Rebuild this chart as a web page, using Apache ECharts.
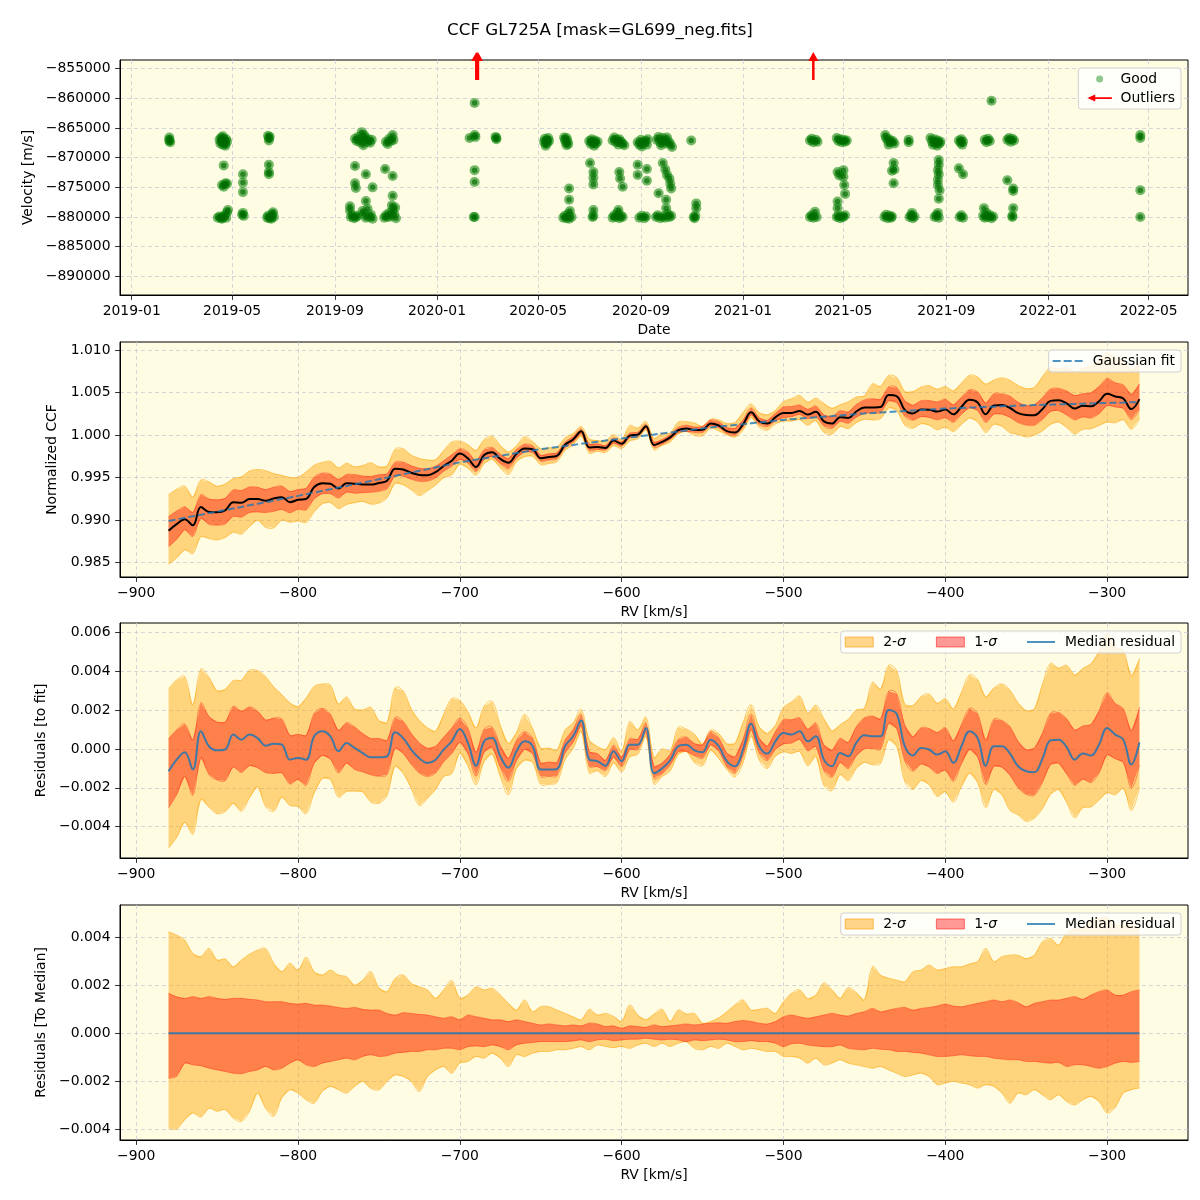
<!DOCTYPE html>
<html><head><meta charset="utf-8">
<script src="https://cdn.jsdelivr.net/npm/echarts@6/dist/echarts.min.js"></script>
<style>html,body{margin:0;padding:0;background:#fff}#c{width:1200px;height:1200px}</style>
</head><body><div id="c"></div>
<script>
// ---------- Panel 1 data: RV time series ----------
const goodPoints = [
['2019-02-15',-866600],['2019-02-15',-867000],['2019-02-16',-867400],['2019-02-15',-867200],
['2019-04-16',-867000],['2019-04-17',-867600],['2019-04-18',-866600],['2019-04-19',-867300],['2019-04-20',-867800],['2019-04-21',-866800],['2019-04-22',-867200],['2019-04-23',-867600],['2019-04-24',-866900],['2019-04-25',-867300],['2019-04-20',-866400],['2019-04-23',-868000],
['2019-04-21',-871300],['2019-04-19',-874600],['2019-04-21',-874900],['2019-04-23',-874300],['2019-04-25',-874400],
['2019-04-14',-880100],['2019-04-16',-879900],['2019-04-18',-880200],['2019-04-20',-880000],['2019-04-22',-879700],['2019-04-24',-880100],['2019-04-25',-879200],['2019-04-26',-878800],['2019-04-19',-880300],
['2019-05-14',-872800],['2019-05-14',-874200],['2019-05-14',-875800],['2019-05-14',-879300],['2019-05-15',-879800],['2019-05-13',-879600],
['2019-06-13',-866300],['2019-06-14',-866700],['2019-06-14',-867100],['2019-06-15',-866500],
['2019-06-14',-871200],['2019-06-14',-872400],['2019-06-14',-872800],
['2019-06-12',-880100],['2019-06-13',-879800],['2019-06-15',-880200],['2019-06-16',-880000],['2019-06-18',-879500],['2019-06-19',-879200],['2019-06-17',-880300],['2019-06-20',-880000],
['2019-09-25',-866800],['2019-09-27',-867200],['2019-09-29',-866500],['2019-10-01',-867400],['2019-10-03',-865700],['2019-10-04',-867000],['2019-10-05',-867900],['2019-10-07',-866600],['2019-10-09',-867300],['2019-10-11',-866900],['2019-10-13',-867500],['2019-10-15',-867000],['2019-10-06',-866200],
['2019-09-25',-871400],['2019-09-25',-874300],['2019-09-26',-875100],['2019-10-08',-872800],['2019-10-08',-877300],['2019-10-16',-875000],['2019-09-19',-878200],['2019-09-19',-878900],
['2019-09-20',-880000],['2019-09-22',-879700],['2019-09-24',-880200],['2019-09-26',-880000],['2019-09-28',-879800],['2019-10-04',-879000],['2019-10-06',-879500],['2019-10-08',-880100],['2019-10-10',-878600],['2019-10-12',-880000],['2019-10-14',-879600],['2019-10-16',-880300],
['2019-11-01',-867300],['2019-11-03',-867700],['2019-11-05',-866800],['2019-11-07',-867200],['2019-11-09',-866200],['2019-11-10',-867000],
['2019-10-31',-871900],['2019-11-09',-873100],['2019-11-09',-876400],['2019-11-08',-878000],
['2019-10-30',-880100],['2019-11-01',-879700],['2019-11-03',-880000],['2019-11-05',-879300],['2019-11-07',-879900],['2019-11-09',-878800],['2019-11-11',-879500],['2019-11-13',-880200],['2019-11-12',-878400],
['2020-02-15',-860800],['2020-02-09',-866700],['2020-02-15',-866200],['2020-02-16',-866500],['2020-02-15',-872100],['2020-02-15',-874100],['2020-02-15',-880000],['2020-02-14',-880000],
['2020-03-11',-866500],['2020-03-12',-866900],['2020-03-12',-866700],
['2020-05-08',-867300],['2020-05-09',-866800],['2020-05-10',-867600],['2020-05-11',-867100],['2020-05-12',-867500],['2020-05-13',-866700],['2020-05-14',-867200],['2020-05-10',-868000],
['2020-06-01',-866600],['2020-06-02',-867000],['2020-06-03',-867400],['2020-06-04',-866700],['2020-06-05',-867200],['2020-06-06',-867700],['2020-06-04',-867900],
['2020-06-07',-875200],['2020-06-07',-877100],
['2020-05-31',-880100],['2020-06-02',-879800],['2020-06-04',-880200],['2020-06-06',-879500],['2020-06-08',-879000],['2020-06-10',-880000],['2020-06-07',-880300],
['2020-07-01',-867200],['2020-07-03',-867700],['2020-07-04',-866900],['2020-07-05',-867400],['2020-07-07',-868000],['2020-07-08',-867100],['2020-07-09',-867600],['2020-07-11',-867300],
['2020-07-02',-870900],['2020-07-06',-872400],['2020-07-06',-873400],['2020-07-06',-874500],['2020-07-06',-878800],
['2020-07-05',-880000],['2020-07-06',-879800],
['2020-07-29',-867100],['2020-07-31',-866600],['2020-08-02',-867400],['2020-08-03',-867000],['2020-08-05',-867800],['2020-08-06',-866900],['2020-08-08',-867300],['2020-08-10',-867600],['2020-08-12',-867900],
['2020-08-06',-872400],['2020-08-07',-873500],['2020-08-10',-874900],['2020-08-05',-878800],
['2020-07-29',-880100],['2020-07-31',-879700],['2020-08-02',-880000],['2020-08-04',-879300],['2020-08-06',-880200],['2020-08-08',-879800],['2020-08-10',-880000],
['2020-08-28',-867400],['2020-08-30',-867800],['2020-09-01',-867000],['2020-09-02',-868100],['2020-09-04',-867500],['2020-09-06',-867200],['2020-09-08',-867800],['2020-09-09',-866900],
['2020-08-28',-871200],['2020-08-28',-872900],['2020-09-08',-871900],['2020-09-08',-873900],
['2020-08-30',-880100],['2020-09-02',-879800],['2020-09-05',-880200],['2020-09-07',-879900],
['2020-09-20',-867000],['2020-09-22',-866500],['2020-09-24',-867400],['2020-09-25',-867900],['2020-09-27',-866700],['2020-09-29',-867200],['2020-10-01',-867600],['2020-10-02',-866600],['2020-10-04',-867300],['2020-10-06',-867700],['2020-10-08',-868200],
['2020-09-27',-870900],['2020-09-30',-872000],['2020-10-02',-872900],['2020-10-05',-873500],['2020-10-06',-874400],['2020-10-07',-875200],['2020-09-22',-876000],['2020-10-01',-877100],['2020-10-01',-878500],
['2020-09-19',-880000],['2020-09-21',-879700],['2020-09-24',-880200],['2020-09-27',-879900],['2020-09-30',-880100],['2020-10-03',-879500],['2020-10-05',-880000],['2020-10-07',-879800],
['2020-10-31',-867100],['2020-11-06',-877700],['2020-11-06',-878500],['2020-11-03',-880000],['2020-11-05',-879800],['2020-11-04',-880200],
['2021-03-22',-867100],['2021-03-24',-866800],['2021-03-26',-867400],['2021-03-29',-867000],['2021-03-31',-867300],
['2021-03-22',-880000],['2021-03-24',-879700],['2021-03-26',-880100],['2021-03-28',-879100],['2021-03-30',-880000],
['2021-04-23',-866700],['2021-04-25',-867200],['2021-04-27',-866900],['2021-04-29',-867400],['2021-05-01',-867000],['2021-05-03',-867300],['2021-05-05',-867100],
['2021-04-24',-872400],['2021-04-24',-877400],['2021-04-24',-878500],['2021-05-01',-872100],['2021-05-01',-873200],['2021-05-02',-874600],['2021-05-03',-876100],['2021-04-26',-873000],
['2021-04-23',-880000],['2021-04-25',-879800],['2021-04-27',-880200],['2021-04-29',-879900],['2021-05-01',-880000],['2021-05-03',-879700],
['2021-06-20',-866200],['2021-06-21',-866700],['2021-06-23',-867100],['2021-06-25',-866900],['2021-06-27',-867400],['2021-06-29',-867200],['2021-07-01',-867600],['2021-06-24',-867800],
['2021-06-30',-870900],['2021-06-28',-872200],['2021-07-01',-872000],['2021-06-30',-874300],
['2021-06-19',-880000],['2021-06-21',-879600],['2021-06-23',-880200],['2021-06-25',-879800],['2021-06-27',-880100],['2021-06-28',-879900],
['2021-07-18',-867000],['2021-07-18',-867400],
['2021-07-19',-880000],['2021-07-21',-879700],['2021-07-23',-880200],['2021-07-25',-879900],['2021-07-22',-879300],
['2021-08-13',-866700],['2021-08-15',-867300],['2021-08-16',-867800],['2021-08-18',-866900],['2021-08-19',-867500],['2021-08-21',-868000],['2021-08-22',-867100],['2021-08-24',-867600],['2021-08-25',-867300],
['2021-08-23',-870400],['2021-08-23',-871200],['2021-08-22',-872100],['2021-08-22',-873700],['2021-08-24',-875500],['2021-08-23',-876900],['2021-08-22',-874600],['2021-08-23',-872800],
['2021-08-18',-880000],['2021-08-20',-879700],['2021-08-22',-879300],['2021-08-23',-880100],
['2021-09-16',-867100],['2021-09-18',-867500],['2021-09-19',-866900],['2021-09-21',-867300],['2021-09-20',-867800],
['2021-09-16',-871800],['2021-09-21',-872800],
['2021-09-17',-880000],['2021-09-19',-879700],['2021-09-21',-880100],
['2021-10-17',-867000],['2021-10-19',-867400],['2021-10-21',-866800],['2021-10-23',-867200],['2021-10-25',-860400],
['2021-10-15',-879800],['2021-10-17',-880100],['2021-10-19',-879300],['2021-10-21',-880000],['2021-10-23',-879700],['2021-10-25',-880200],['2021-10-27',-879900],['2021-10-16',-878500],
['2021-11-13',-867000],['2021-11-15',-866700],['2021-11-17',-867300],['2021-11-19',-866800],['2021-11-21',-867100],
['2021-11-13',-873800],['2021-11-20',-875200],['2021-11-20',-878500],['2021-11-20',-875600],
['2021-11-19',-880000],['2021-11-19',-879800],
['2022-04-21',-866200],['2022-04-21',-866700],['2022-04-21',-875500],['2022-04-21',-880000]
];
const outlierDates = ['2020-02-17','2020-02-19','2021-03-26'];
const dateTicks = ['2019-01-01','2019-05-01','2019-09-01','2020-01-01','2020-05-01','2020-09-01','2021-01-01','2021-05-01','2021-09-01','2022-01-01','2022-05-01'];
const velTicks = [-890000,-885000,-880000,-875000,-870000,-865000,-860000,-855000];

// ---------- Panels 2-4 data: CCF ----------
const rv = [-880,-875,-870,-865,-860,-855,-850,-845,-840,-835,
-830,-825,-820,-815,-810,-805,-800,-795,-790,-785,
-780,-775,-770,-765,-760,-755,-750,-745,-740,-735,
-730,-725,-720,-715,-710,-705,-700,-695,-690,-685,
-680,-675,-670,-665,-660,-655,-650,-645,-640,-635,
-630,-625,-620,-615,-610,-605,-600,-595,-590,-585,
-580,-575,-570,-565,-560,-555,-550,-545,-540,-535,
-530,-525,-520,-515,-510,-505,-500,-495,-490,-485,
-480,-475,-470,-465,-460,-455,-450,-445,-440,-435,
-430,-425,-420,-415,-410,-405,-400,-395,-390,-385,
-380,-375,-370,-365,-360,-355,-350,-345,-340,-335,
-330,-325,-320,-315,-310,-305,-300,-295,-290,-285,
-280];
// Gaussian fit (normalized CCF)
const fitCCF = [0.98990,0.99008,0.99027,0.99045,0.99063,0.99082,0.99100,0.99118,0.99137,0.99155,
0.99174,0.99192,0.99211,0.99229,0.99248,0.99266,0.99285,0.99305,0.99324,0.99344,
0.99363,0.99383,0.99402,0.99422,0.99441,0.99461,0.99480,0.99500,0.99520,0.99540,
0.99560,0.99580,0.99600,0.99620,0.99640,0.99660,0.99680,0.99696,0.99712,0.99727,
0.99743,0.99758,0.99773,0.99789,0.99804,0.99820,0.99835,0.99848,0.99860,0.99873,
0.99885,0.99898,0.99910,0.99923,0.99936,0.99948,0.99961,0.99973,0.99985,0.99997,
1.00009,1.00021,1.00032,1.00044,1.00056,1.00068,1.00080,1.00090,1.00100,1.00110,
1.00120,1.00130,1.00140,1.00150,1.00160,1.00170,1.00180,1.00188,1.00195,1.00203,
1.00210,1.00218,1.00225,1.00233,1.00240,1.00248,1.00255,1.00261,1.00267,1.00272,
1.00278,1.00284,1.00290,1.00296,1.00302,1.00307,1.00313,1.00317,1.00321,1.00325,
1.00329,1.00333,1.00336,1.00340,1.00344,1.00348,1.00352,1.00355,1.00357,1.00360,
1.00363,1.00365,1.00368,1.00371,1.00374,1.00376,1.00379,1.00382,1.00384,1.00387,
1.00390];
// Median residual to fit, in units of 1e-3
const resMedE3 = [-1.15,-0.55,-0.17,-1.06,0.91,0.14,-0.07,-0.03,0.74,0.48,
0.74,0.56,0.17,0.27,0.22,-0.55,-0.46,-0.55,0.65,0.91,
0.65,-0.12,0.31,0.05,-0.21,-0.43,-0.43,-0.38,0.86,0.56,
-0.03,-0.48,-0.72,-0.55,-0.03,0.39,1.03,0.31,-0.86,0.39,
0.56,-0.38,-0.97,-0.12,0.39,0.14,-1.06,-1.06,-1.03,0.14,
0.65,1.47,-0.55,-0.63,-0.86,-0.12,-0.63,0.22,0.22,1.08,
-1.25,-1.00,-0.58,0.14,0.22,-0.07,-0.17,0.48,0.14,-0.63,
-0.89,-0.03,1.30,0.14,-0.24,0.39,0.82,0.74,0.91,0.39,
0.65,-0.55,-0.89,-0.21,-0.38,0.31,0.70,0.65,0.65,2.00,
1.80,0.14,-0.34,0.05,-0.03,-0.29,-0.12,-0.72,0.14,0.91,
0.56,-0.86,0.14,0.14,-0.24,-0.89,-1.15,-1.20,-0.51,0.44,
0.48,0.10,-0.55,-0.24,-0.34,0.22,1.08,0.74,0.48,-0.80,
0.34];
// Band edges relative to the median, in units of 1e-3
const sig2HiE3 = [4.24,4.10,3.90,3.33,3.20,3.54,3.06,3.10,2.78,3.06,
3.30,3.47,3.54,2.92,2.57,2.92,2.64,3.17,2.57,2.43,
2.64,2.43,2.36,2.01,2.22,2.57,1.90,1.74,2.29,2.43,
2.08,1.94,1.81,1.46,1.81,2.20,1.46,1.60,1.94,1.81,
1.88,1.60,1.25,0.97,1.39,0.90,1.11,1.11,0.97,0.83,
0.69,0.56,1.00,0.76,0.83,0.70,0.49,1.18,0.76,0.56,
0.80,1.00,0.49,0.97,0.80,0.83,0.42,0.49,0.65,0.90,
1.18,1.39,0.97,1.00,1.04,0.83,1.32,1.67,1.81,1.45,
1.60,2.10,1.81,1.46,1.90,1.70,1.39,2.78,2.43,2.30,
2.22,2.15,2.57,2.64,2.85,2.64,2.71,2.78,2.78,2.90,
3.00,3.54,2.99,3.20,3.26,3.26,3.12,3.26,3.82,3.96,
3.68,4.20,4.35,4.38,4.72,4.80,4.86,4.51,4.58,4.58,
4.31];
const sig2LoE3 = [-3.96,-4.00,-3.61,-3.33,-3.50,-3.13,-3.26,-3.19,-3.54,-3.68,
-3.26,-2.50,-3.13,-3.47,-2.70,-2.36,-2.50,-2.78,-2.92,-2.43,
-2.22,-2.36,-2.50,-2.22,-2.01,-2.30,-2.36,-2.01,-1.74,-1.81,
-2.01,-2.43,-1.81,-1.53,-1.39,-1.67,-1.25,-1.18,-0.97,-1.04,
-0.83,-1.04,-1.39,-0.90,-0.97,-0.83,-0.76,-0.76,-0.69,-0.69,
-0.63,-0.56,-0.69,-0.49,-0.55,-0.60,-0.55,-0.63,-0.49,-0.42,
-0.55,-0.42,-0.55,-0.42,-0.35,-0.63,-0.69,-0.55,-0.63,-0.42,
-0.55,-0.69,-0.63,-0.69,-0.76,-0.76,-0.97,-0.97,-1.04,-1.25,
-1.04,-1.32,-1.25,-1.11,-1.25,-1.32,-1.39,-1.46,-1.39,-1.53,
-1.67,-1.81,-1.74,-1.67,-1.81,-2.15,-2.08,-2.01,-2.08,-2.15,
-2.29,-2.15,-2.22,-2.50,-2.92,-2.50,-2.57,-2.36,-2.57,-2.78,
-2.57,-2.85,-2.99,-2.78,-2.64,-2.85,-3.33,-3.10,-2.50,-2.36,
-2.29];
const sig1HiE3 = [1.67,1.53,1.46,1.53,1.46,1.53,1.46,1.42,1.46,1.46,
1.42,1.39,1.32,1.32,1.32,1.25,1.22,1.25,1.18,1.18,
1.14,1.08,1.04,1.08,1.00,0.97,0.97,0.83,0.76,0.86,
0.83,0.79,0.76,0.69,0.63,0.69,0.56,0.76,0.69,0.63,
0.56,0.56,0.49,0.56,0.49,0.42,0.35,0.39,0.35,0.31,
0.35,0.31,0.42,0.39,0.28,0.31,0.21,0.31,0.28,0.25,
0.35,0.28,0.31,0.35,0.39,0.35,0.39,0.42,0.44,0.42,
0.49,0.53,0.49,0.42,0.39,0.49,0.69,0.76,0.69,0.63,
0.69,0.76,0.83,0.76,0.72,0.83,0.90,1.04,0.90,0.97,
1.04,1.08,0.97,1.04,1.08,1.14,1.22,1.14,1.11,1.18,
1.25,1.32,1.39,1.32,1.39,1.28,1.11,1.25,1.32,1.39,
1.39,1.46,1.53,1.42,1.60,1.74,1.81,1.60,1.60,1.74,
1.81];
const sig1LoE3 = [-1.88,-1.80,-1.25,-1.32,-1.36,-1.46,-1.53,-1.60,-1.67,-1.69,
-1.60,-1.53,-1.39,-1.53,-1.46,-1.25,-1.11,-1.32,-1.39,-1.25,
-1.18,-1.11,-1.04,-1.11,-0.97,-0.90,-0.97,-0.94,-0.83,-0.80,
-0.76,-0.76,-0.69,-0.69,-0.63,-0.63,-0.69,-0.56,-0.53,-0.56,
-0.49,-0.56,-0.69,-0.49,-0.42,-0.39,-0.35,-0.35,-0.35,-0.35,
-0.32,-0.28,-0.35,-0.28,-0.25,-0.31,-0.28,-0.25,-0.25,-0.21,
-0.25,-0.28,-0.25,-0.28,-0.35,-0.28,-0.31,-0.28,-0.25,-0.28,
-0.35,-0.35,-0.31,-0.35,-0.35,-0.42,-0.56,-0.44,-0.42,-0.49,
-0.53,-0.56,-0.56,-0.49,-0.63,-0.67,-0.69,-0.63,-0.67,-0.69,
-0.76,-0.76,-0.80,-0.83,-0.90,-0.97,-0.97,-0.94,-0.90,-0.94,
-0.97,-0.97,-1.04,-1.08,-1.11,-1.11,-1.18,-1.18,-1.22,-1.25,
-1.22,-1.39,-1.32,-1.32,-1.39,-1.46,-1.39,-1.25,-1.18,-1.22,
-1.18];
const rvTicks = [-900,-800,-700,-600,-500,-400,-300];
const ccfTicks = [0.985,0.990,0.995,1.000,1.005,1.010];
const resTicks = [-0.004,-0.002,0,0.002,0.004,0.006];
const medTicks = [-0.004,-0.002,0,0.002,0.004];

// ---------- build ----------
const FONT = 'DejaVu Sans';
const BG = '#fefde3';
const SMOOTH = 0.4;
const t = s => Date.parse(s + 'T00:00:00Z');
const minus = s => String(s).replace('-', '\u2212');
const P1MIN = -893130, P1MAX = -853550;
const vAt = f => P1MIN + f * (P1MAX - P1MIN);

function axis(o) {
  return {
    type: 'value', gridIndex: o.grid, min: o.min, max: o.max,
    name: o.name, nameLocation: 'middle', nameGap: o.gap,
    nameTextStyle: {fontSize: 13.9, color: '#000', fontFamily: FONT},
    axisLine: {show: true, onZero: false, lineStyle: {color: '#000', width: 1}},
    axisTick: {show: true, customValues: o.ticks, length: 4.9, lineStyle: {color: '#000', width: 0.8}},
    axisLabel: {show: true, customValues: o.ticks, formatter: o.fmt, color: '#000', fontSize: 13.9, fontFamily: FONT, margin: 9.5},
    splitLine: {show: true, lineStyle: {color: '#cbcbd6', width: 0.8, type: [4, 3]}}
  };
}
const fmtDate = v => { const d = new Date(v); return d.getUTCFullYear() + '-' + String(d.getUTCMonth() + 1).padStart(2, '0'); };
const f3 = v => minus(v.toFixed(3));

const grids = [60, 342, 623, 905].map(top => ({
  left: 120, top: top, width: 1068, height: 235, show: true, backgroundColor: BG,
  borderColor: '#000', borderWidth: 1, containLabel: false, outerBoundsMode: 'none'
}));

const xAxes = [
  axis({grid: 0, min: t('2018-12-18'), max: t('2022-06-17'), name: 'Date', gap: 28, ticks: dateTicks.map(t), fmt: fmtDate}),
  axis({grid: 1, min: -910, max: -250, name: 'RV [km/s]', gap: 28, ticks: rvTicks, fmt: v => minus(v)}),
  axis({grid: 2, min: -910, max: -250, name: 'RV [km/s]', gap: 28, ticks: rvTicks, fmt: v => minus(v)}),
  axis({grid: 3, min: -910, max: -250, name: 'RV [km/s]', gap: 28, ticks: rvTicks, fmt: v => minus(v)})
];
const yAxes = [
  axis({grid: 0, min: P1MIN, max: P1MAX, name: 'Velocity [m/s]', gap: 80, ticks: velTicks, fmt: v => minus(v)}),
  axis({grid: 1, min: 0.98330, max: 1.01097, name: 'Normalized CCF', gap: 56, ticks: ccfTicks, fmt: v => v.toFixed(3)}),
  axis({grid: 2, min: -0.00561, max: 0.00648, name: 'Residuals [to fit]', gap: 67, ticks: resTicks, fmt: f3}),
  axis({grid: 3, min: -0.00446, max: 0.00536, name: 'Residuals [To Median]', gap: 67, ticks: medTicks, fmt: f3})
];

const C2 = 'rgba(255,165,0,0.45)', E2 = 'rgba(255,160,0,0.55)';
const C1 = 'rgba(255,0,0,0.4)', E1 = 'rgba(255,0,0,0.35)';
const BLUE = 'rgba(31,119,180,0.85)';

// A filled band between lo and hi, drawn as one polygon through the axis scales
function band(gi, lo, hi, fill, edge, name) {
  const pts = rv.map((x, i) => [x, lo[i], hi[i]]);
  return {
    name: name, type: 'custom', xAxisIndex: gi, yAxisIndex: gi, silent: true, z: 2,
    data: pts, encode: {x: 0, y: [1, 2]}, itemStyle: {color: fill},
    renderItem: (params, api) => {
      if (params.dataIndex !== 0) return null;
      const upper = pts.map(p => api.coord([p[0], p[2]]));
      const lower = pts.map(p => api.coord([p[0], p[1]])).reverse();
      return {type: 'group', children: [
        {type: 'polygon', shape: {points: upper.concat(lower)}, style: {fill: fill, stroke: null}},
        {type: 'polyline', shape: {points: upper, smooth: SMOOTH}, style: {fill: null, stroke: edge, lineWidth: 1}},
        {type: 'polyline', shape: {points: lower, smooth: SMOOTH}, style: {fill: null, stroke: edge, lineWidth: 1}}
      ]};
    }
  };
}
const E3 = 1e-3;
const medCCF = rv.map((_, i) => fitCCF[i] + resMedE3[i] * E3);
const off = (base, arr) => rv.map((_, i) => base[i] + arr[i] * E3);
const resVals = rv.map((_, i) => resMedE3[i] * E3);
const zeros = rv.map(() => 0);

const series = [];
// Panel 1
series.push({name: 'Good', type: 'scatter', xAxisIndex: 0, yAxisIndex: 0, symbolSize: 10,
  data: goodPoints.map(p => [t(p[0]), p[1]]), itemStyle: {color: 'rgba(0,128,0,0.68)'}, z: 3});
series.push({name: 'Good core', type: 'scatter', xAxisIndex: 0, yAxisIndex: 0, symbolSize: 5.5,
  data: goodPoints.map(p => [t(p[0]), p[1]]), itemStyle: {color: 'rgba(0,105,0,0.8)'}, z: 3});
outlierDates.forEach(d => series.push({
  name: 'Outliers', type: 'line', xAxisIndex: 0, yAxisIndex: 0, clip: false, showSymbol: true, z: 6,
  data: [{value: [t(d), vAt(0.915)], symbol: 'none'},
         {value: [t(d), vAt(1.0)], symbol: 'triangle', symbolSize: [10, 9], symbolOffset: [0, -3.5]}],
  lineStyle: {color: '#ff0000', width: 2.5}, itemStyle: {color: '#ff0000'}
}));
// Panel 2
series.push(band(1, off(medCCF, sig2LoE3), off(medCCF, sig2HiE3), C2, E2, 'p2 2sigma'));
series.push(band(1, off(medCCF, sig1LoE3), off(medCCF, sig1HiE3), C1, E1, 'p2 1sigma'));
series.push({name: 'CCF median', type: 'line', xAxisIndex: 1, yAxisIndex: 1, symbol: 'none', z: 4, smooth: SMOOTH,
  data: rv.map((x, i) => [x, medCCF[i]]), lineStyle: {color: '#000', width: 2}});
series.push({name: 'Gaussian fit', type: 'line', xAxisIndex: 1, yAxisIndex: 1, symbol: 'none', z: 5, smooth: SMOOTH,
  data: rv.map((x, i) => [x, fitCCF[i]]), lineStyle: {color: 'rgba(31,119,180,0.8)', width: 2, type: [7, 3]}});
// Panel 3
series.push(band(2, off(resVals, sig2LoE3), off(resVals, sig2HiE3), C2, E2, '2-σ'));
series.push(band(2, off(resVals, sig1LoE3), off(resVals, sig1HiE3), C1, E1, '1-σ'));
series.push({name: 'Median residual', type: 'line', xAxisIndex: 2, yAxisIndex: 2, symbol: 'none', z: 4, smooth: SMOOTH,
  data: rv.map((x, i) => [x, resVals[i]]), lineStyle: {color: BLUE, width: 2}});
// Panel 4
series.push(band(3, off(zeros, sig2LoE3), off(zeros, sig2HiE3), C2, E2, '2-σ'));
series.push(band(3, off(zeros, sig1LoE3), off(zeros, sig1HiE3), C1, E1, '1-σ'));
series.push({name: 'Median residual', type: 'line', xAxisIndex: 3, yAxisIndex: 3, symbol: 'none', z: 4,
  data: rv.map((x, i) => [x, zeros[i]]), lineStyle: {color: BLUE, width: 1.8}});

const legBase = {
  backgroundColor: 'rgba(255,255,255,0.8)', borderColor: '#d0d0d0', borderWidth: 1, borderRadius: 3,
  selectedMode: false, textStyle: {fontSize: 13.9, color: '#000', fontFamily: FONT, padding: [0, 0, 0, 5]}
};
const sigmaFmt = name => name === '2-σ' ? '{n|2-}{s|σ}' : name === '1-σ' ? '{n|1-}{s|σ}' : '{n|' + name + '}';
const sigmaRich = {n: {fontSize: 13.9, fontFamily: FONT, color: '#000'}, s: {fontSize: 13.9, fontFamily: FONT, fontStyle: 'italic', color: '#000'}};
const bandLegendData = [
  {name: '2-σ', icon: 'rect', itemStyle: {color: 'rgba(255,165,0,0.45)', borderColor: 'rgba(255,150,0,0.6)', borderWidth: 1}},
  {name: '1-σ', icon: 'rect', itemStyle: {color: 'rgba(255,0,0,0.4)', borderColor: 'rgba(255,0,0,0.5)', borderWidth: 1}},
  {name: 'Median residual', icon: 'path://M0,0h30v2h-30z', itemStyle: {color: BLUE}}
];
const legends = [
  Object.assign({}, legBase, {orient: 'vertical', right: 19, top: 68, itemWidth: 28, itemHeight: 7, itemGap: 5,
    padding: [4, 6, 4, 9],
    textStyle: {fontSize: 13.9, color: '#000', fontFamily: FONT, padding: [0, 0, 0, 2]},
    data: [{name: 'Good', icon: 'circle', itemStyle: {color: 'rgba(0,128,0,0.55)'}},
           {name: 'Outliers', icon: 'path://M0,4L9,0L9,3L28,3L28,5L9,5L9,8Z', itemStyle: {color: '#ff0000'}}]}),
  Object.assign({}, legBase, {right: 19, top: 350, itemWidth: 30, itemHeight: 12, padding: [4, 6, 4, 4],
    data: [{name: 'Gaussian fit', icon: 'path://M0,0h8v2h-8zM11,0h8v2h-8zM22,0h8v2h-8z', itemStyle: {color: 'rgba(31,119,180,0.8)'}}]}),
  Object.assign({}, legBase, {right: 19, top: 631, itemWidth: 28, itemHeight: 10, itemGap: 30, padding: [4, 6, 4, 4],
    formatter: sigmaFmt, textStyle: {fontSize: 13.9, color: '#000', fontFamily: FONT, padding: [0, 0, 0, 5], rich: sigmaRich},
    data: bandLegendData}),
  Object.assign({}, legBase, {right: 19, top: 913, itemWidth: 28, itemHeight: 10, itemGap: 30, padding: [4, 6, 4, 4],
    formatter: sigmaFmt, textStyle: {fontSize: 13.9, color: '#000', fontFamily: FONT, padding: [0, 0, 0, 5], rich: sigmaRich},
    data: bandLegendData})
];

const chart = echarts.init(document.getElementById('c'), null, {renderer: 'canvas', width: 1200, height: 1200});
chart.setOption({
  animation: false,
  backgroundColor: '#ffffff',
  textStyle: {fontFamily: FONT},
  title: {text: 'CCF GL725A [mask=GL699_neg.fits]', left: 'center', top: 22, padding: 0,
    textStyle: {fontSize: 16.7, fontWeight: 'normal', color: '#000', fontFamily: FONT}},
  grid: grids, xAxis: xAxes, yAxis: yAxes, legend: legends, series: series
});
</script></body></html>
